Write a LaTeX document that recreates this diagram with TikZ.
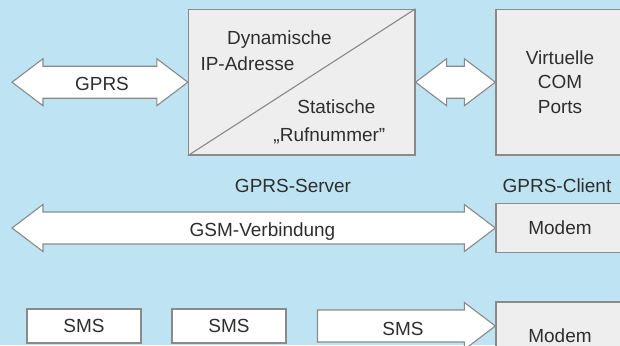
\documentclass[tikz,border=0pt]{standalone}
\usepackage{fontspec}
\setmainfont{Liberation Sans}
\usetikzlibrary{positioning,calc}
\definecolor{bgblue}{HTML}{BEE4F4}
\definecolor{boxgray}{HTML}{EEEEEE}
\definecolor{edgegray}{HTML}{8A8A8A}
\definecolor{txtgray}{HTML}{2E2E2E}
\tikzset{
  box/.style={draw=edgegray, line width=0.9pt, fill=boxgray, align=center, inner sep=0pt},
  smsbox/.style={draw=edgegray, line width=1.2pt, fill=white, minimum width=2.85cm, minimum height=0.85cm, inner sep=0pt},
  lbl/.style={inner sep=0pt, anchor=base},
  fatarrow/.style={draw=edgegray, line width=0.8pt, fill=white, line join=miter},
  % block arrow with a head at both ends
  dblarrow/.style={fatarrow, to path={
      -- ++(31,-23.5) -- ++(0,7.5) -- ([shift={(-31,-16)}]\tikztotarget) -- ++(0,-7.5)
      -- (\tikztotarget) -- ++(-31,23.5) -- ++(0,-7.5) -- ([shift={(31,16)}]\tikztostart)
      -- ++(0,7.5) -- cycle}},
  % block arrow with a flat tail
  sglarrow/.style={fatarrow, to path={
      -- ++(0,-16) -- ([shift={(-31,-16)}]\tikztotarget) -- ++(0,-7.5)
      -- (\tikztotarget) -- ++(-31,23.5) -- ++(0,-7.5) -- ([shift={(0,16)}]\tikztostart)
      -- cycle}}
}

\begin{document}
\begin{tikzpicture}[x=0.025cm, y=-0.025cm, font=\fontsize{13.5}{17.7}\selectfont, text=txtgray]
  \useasboundingbox (0,0) rectangle (620,345);
  \clip (0,0) rectangle (620,345);
  \fill[bgblue] (0,0) rectangle (620,345);

  % top row: server with split box, client with COM ports
  \node[box, minimum width=5.66cm, minimum height=3.64cm] (server) at (301.7,82.2) {};
  \draw[edgegray, line width=0.8pt] (server.south west) -- (server.north east);
  \node[box, minimum width=3.2cm, minimum height=3.64cm] (client) at (560,82.2) {Virtuelle\\COM\\Ports};

  \node[lbl] (dyn) at (279.4,44) {Dynamische};
  \node[lbl] (ipadr) at (247.5,70) {IP-Adresse};
  \node[lbl] (stat) at (336.4,113.3) {Statische};
  \node[lbl] (rufnr) at (329.4,141) {„Rufnummer”};

  \node[lbl] (srvname) at (293,192.7) {GPRS-Server};
  \node[lbl] (cltname) at (557,192.7) {GPRS-Client};

  % modems
  \node[box, minimum width=3.2cm, minimum height=1.235cm] (modemgsm) at (560,228) {Modem};
  \node[box, minimum width=3.2cm, minimum height=1.7cm] (modemsms) at (560,336) {Modem};

  % sms boxes
  \node[smsbox] (smsa) at (84,326.3) {SMS};
  \node[smsbox] (smsb) at (229,326.3) {SMS};

  % block arrows
  \coordinate (gprsend) at (12,82.2);
  \coordinate (gsmend) at (12,228);
  \coordinate (smstail) at (317.5,326);
  \coordinate (smstip) at (smstail -| modemsms.west);
  \draw[dblarrow] (gprsend) to (server.west);
  \draw[dblarrow] (server.east) to (client.west);
  \draw[dblarrow] (gsmend) to (modemgsm.west);
  \draw[sglarrow] (smstail) to (smstip);

  \node[lbl] (gprs) at (102,90.7) {GPRS};
  \node[lbl] (gsm) at (262.5,236) {GSM-Verbindung};
  \node[lbl] (smsc) at (403,335) {SMS};
\end{tikzpicture}
\end{document}
